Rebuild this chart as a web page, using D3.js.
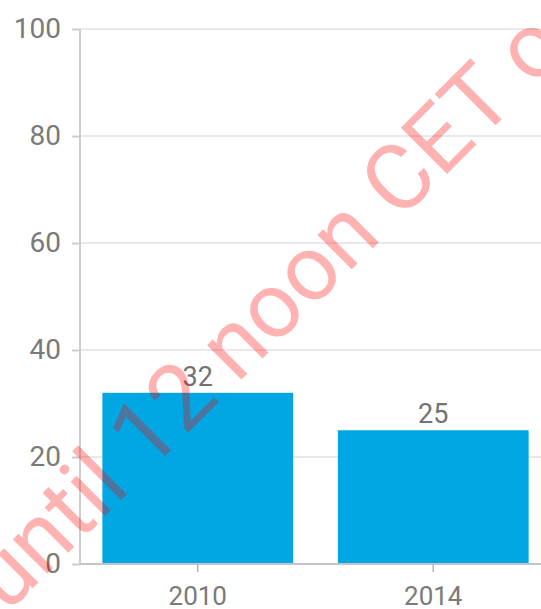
<!DOCTYPE html>
<html>
<head>
<meta charset="utf-8">
<script src="https://cdn.jsdelivr.net/npm/d3@7"></script>
<style>
  html, body { margin: 0; padding: 0; background: #fff; }
  svg { display: block; font-family: Roboto, "Noto Sans", sans-serif; }
</style>
</head>
<body>
<svg id="chart" width="541" height="609"></svg>
<script>
// Survey share by year
const years = ["2010", "2014"];
const values = [32, 25];
const yTicks = [0, 20, 40, 60, 80, 100];
const stampText = "until 12 noon CET o";

const svg = d3.select("#chart");
const W = 541, H = 609;
const plotLeft = 80, plotTop = 29, plotBottom = 564;

const x = d3.scaleBand()
  .domain(years)
  .range([plotLeft, 551])
  .paddingInner(0.19)
  .paddingOuter(0.095);

const y = d3.scaleLinear().domain([0, 100]).range([plotBottom, plotTop]);

// horizontal grid
svg.append("g")
  .selectAll("line")
  .data(yTicks.filter(d => d > 0))
  .join("line")
  .attr("x1", plotLeft).attr("x2", W)
  .attr("y1", d => y(d)).attr("y2", d => y(d))
  .attr("stroke", "#e9e9e9")
  .attr("stroke-width", 2);

// y axis
const yAxis = svg.append("g")
  .attr("transform", `translate(${plotLeft},0)`)
  .call(d3.axisLeft(y).tickValues(yTicks).tickSize(8).tickPadding(11));
yAxis.select(".domain").attr("stroke", "#cdcdcd").attr("stroke-width", 2)
  .attr("d", `M0,${plotTop}V${plotBottom}`);
yAxis.selectAll(".tick line").attr("stroke", "#cdcdcd").attr("stroke-width", 2);
yAxis.selectAll(".tick text")
  .attr("fill", "#7a7a7a")
  .attr("font-size", 28)
  .attr("font-family", "Roboto, sans-serif");

// bars
svg.append("g")
  .selectAll("rect")
  .data(years)
  .join("rect")
  .attr("x", d => x(d))
  .attr("width", x.bandwidth())
  .attr("y", (d, i) => y(values[i]))
  .attr("height", (d, i) => y(0) - y(values[i]))
  .attr("fill", "#00a7e2");

// x axis
const xAxis = svg.append("g")
  .attr("transform", `translate(0,${plotBottom})`)
  .call(d3.axisBottom(x).tickSize(8).tickPadding(15));
xAxis.select(".domain").attr("stroke", "#c4c4c4").attr("stroke-width", 2)
  .attr("d", `M${plotLeft},0H${W}`);
xAxis.selectAll(".tick line").attr("stroke", "#b5b5b5").attr("stroke-width", 1.5);
xAxis.selectAll(".tick text")
  .attr("fill", "#7a7a7a")
  .attr("font-size", 26)
  .attr("font-family", "Roboto, sans-serif");

// value labels
svg.append("g")
  .selectAll("text")
  .data(years)
  .join("text")
  .attr("x", d => x(d) + x.bandwidth() / 2)
  .attr("y", (d, i) => y(values[i]) - 7)
  .attr("text-anchor", "middle")
  .attr("fill", "#727272")
  .attr("font-size", 27)
  .text((d, i) => values[i]);

// diagonal stamp
svg.append("text")
  .attr("transform", "translate(7,614) rotate(-45)")
  .attr("font-size", 92)
  .attr("fill", "rgb(255,0,0)")
  .attr("fill-opacity", 0.3)
  .text(stampText);
</script>
</body>
</html>
